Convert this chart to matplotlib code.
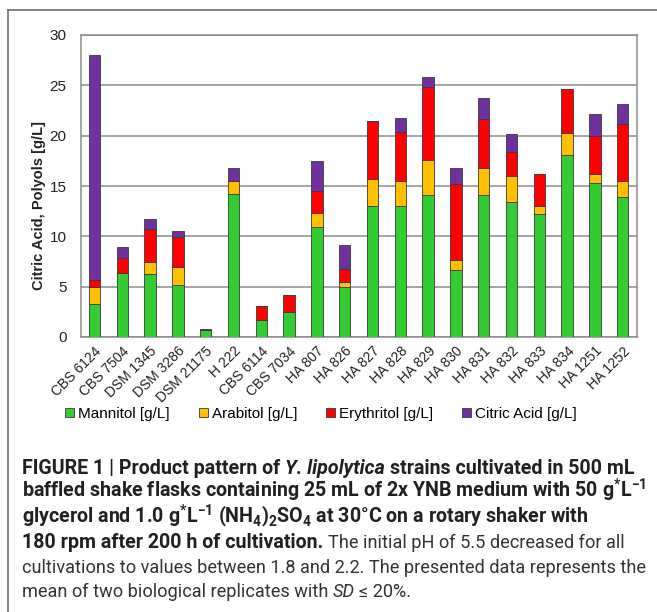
import matplotlib
matplotlib.use("Agg")
import matplotlib.pyplot as plt
from matplotlib.patches import Patch
from matplotlib.lines import Line2D
import numpy as np

plt.rcParams['font.family'] = ['Liberation Sans', 'DejaVu Sans']
plt.rcParams['mathtext.default'] = 'regular'

# strains and product concentrations [g/L]
strains = ["CBS 6124", "CBS 7504", "DSM 1345", "DSM 3286", "DSM 21175", "H 222",
           "CBS 6114", "CBS 7034", "HA 807", "HA 826", "HA 827", "HA 828", "HA 829",
           "HA 830", "HA 831", "HA 832", "HA 833", "HA 834", "HA 1251", "HA 1252"]
mannitol = [3.25, 6.36, 6.30, 5.20, 0.66, 14.19, 1.66, 2.45, 10.94, 4.97,
            13.06, 13.06, 14.15, 6.70, 14.15, 13.46, 12.26, 18.10, 15.25, 13.92]
arabitol = [1.72, 0.0, 1.20, 1.80, 0.0, 1.26, 0.0, 0.0, 1.36, 0.50,
            2.62, 2.42, 3.45, 0.99, 2.65, 2.58, 0.80, 2.18, 0.99, 1.53]
erythritol = [0.66, 1.53, 3.18, 2.90, 0.0, 0.0, 1.39, 1.69, 2.25, 1.26,
              5.77, 4.84, 7.19, 7.46, 4.88, 2.36, 3.15, 4.35, 3.71, 5.66]
citric = [22.37, 1.09, 1.00, 0.63, 0.17, 1.35, 0.0, 0.0, 2.98, 2.39,
          0.0, 1.42, 1.00, 1.59, 2.09, 1.72, 0.0, 0.0, 2.16, 2.03]

series = [("Mannitol [g/L]", mannitol, "#33CC33"),
          ("Arabitol [g/L]", arabitol, "#FFC000"),
          ("Erythritol [g/L]", erythritol, "#FF0000"),
          ("Citric Acid [g/L]", citric, "#7030A0")]

W, H = 657, 612
fig = plt.figure(figsize=(W / 100, H / 100), dpi=100)
ax = fig.add_axes([80.5 / W, (H - 337) / H, (636.7 - 80.5) / W, (337 - 35) / H])

x = np.arange(len(strains))
bottom = np.zeros(len(strains))
for name, vals, col in series:
    vals = np.array(vals)
    ax.bar(x, vals, 0.41, bottom=bottom, color=col, edgecolor="#3a3a3a",
           linewidth=0.6, zorder=3)
    bottom += vals

ax.set_xlim(-0.5, len(strains) - 0.5)
ax.set_ylim(0, 30)
ax.set_yticks([0, 5, 10, 15, 20, 25, 30])
ax.yaxis.grid(True, color="#8c8c8c", linewidth=1.1, zorder=0)
ax.set_axisbelow(True)
for sp in ax.spines.values():
    sp.set_color("#8c8c8c")
    sp.set_linewidth(1.1)
ax.tick_params(axis="y", length=0, pad=10, labelsize=11, labelcolor="#222222")
ax.tick_params(axis="x", length=0, pad=5)
ax.set_xticks(x)
ax.set_xticklabels(strains, rotation=45, ha="right", va="top",
                   rotation_mode="anchor", fontsize=10, color="#222222")
ax.set_ylabel("Citric Acid, Polyols [g/L]", fontsize=10.5, fontweight="bold",
              color="#222222")
ax.yaxis.set_label_coords(-0.062, 0.437)

handles = [Patch(facecolor=c, edgecolor="#3a3a3a", linewidth=0.6) for _, _, c in series]
fig.legend(handles, [n for n, _, _ in series], loc="center left",
           bbox_to_anchor=(65 / W, 1 - 414 / H), ncol=4, frameon=False,
           fontsize=11, handlelength=0.6, handleheight=0.6, handletextpad=0.25,
           columnspacing=1.9, borderaxespad=0, borderpad=0)

# outer frame of the figure panel
fig.add_artist(Line2D([7.5 / W, 1.0], [1 - 10 / H, 1 - 10 / H], transform=fig.transFigure,
                      color="#7a7a7a", linewidth=1.3))
fig.add_artist(Line2D([7.5 / W, 7.5 / W], [1 - 10 / H, 0.0], transform=fig.transFigure,
                      color="#7a7a7a", linewidth=1.3))

# caption
renderer = fig.canvas.get_renderer()
dark = "#231F20"
grey = "#333333"
cap_font = ["Roboto", "Liberation Sans", "DejaVu Sans"]


def width_of(s, **kw):
    t = fig.text(0, 0, s, **kw)
    w = t.get_window_extent(renderer).width
    t.remove()
    return w


def put_line(pieces, y, x0=22):
    xp = x0
    for s, kw in pieces:
        if s == " ":
            xp += width_of("x x", **kw) - width_of("xx", **kw)
            continue
        t = fig.text(xp / W, 1 - y / H, s, va="baseline", ha="left", **kw)
        xp = t.get_window_extent(renderer).x1


bold_fs = 12.0
bold_fs *= 615 / width_of("FIGURE 1 | Product pattern of Y. lipolytica strains cultivated in 500 mL",
                          fontsize=bold_fs, fontweight="bold", family=cap_font)
norm_fs = 12.0
norm_fs *= 620 / width_of("cultivations to values between 1.8 and 2.2. The presented data represents the",
                          fontsize=norm_fs, family=cap_font)

B = dict(fontsize=bold_fs, fontweight="bold", color=dark, family=cap_font)
BI = dict(fontsize=bold_fs, fontweight="bold", style="italic", color=dark, family=cap_font)
N = dict(fontsize=norm_fs, color=grey, family=cap_font)
NI = dict(fontsize=norm_fs, style="italic", color=grey, family=cap_font)

put_line([("FIGURE 1 | Product pattern of", B), (" ", B), ("Y. lipolytica", BI), (" ", B),
          ("strains cultivated in 500 mL", B)], 474)
put_line([("baffled shake flasks containing 25 mL of 2x YNB medium with 50 g$^{*}$L$^{-1}$", B)], 498)
put_line([("glycerol and 1.0 g$^{*}$L$^{-1}$ (NH$_4$)$_2$SO$_4$ at 30°C on a rotary shaker with", B)], 523)
put_line([("180 rpm after 200 h of cultivation.", B), (" ", N),
          ("The initial pH of 5.5 decreased for all", N)], 548)
put_line([("cultivations to values between 1.8 and 2.2. The presented data represents the", N)], 573)
put_line([("mean of two biological replicates with", N), (" ", N), ("SD", NI), (" ", N),
          ("≤ 20%.", N)], 597)

fig.savefig("out.png", dpi=100)
